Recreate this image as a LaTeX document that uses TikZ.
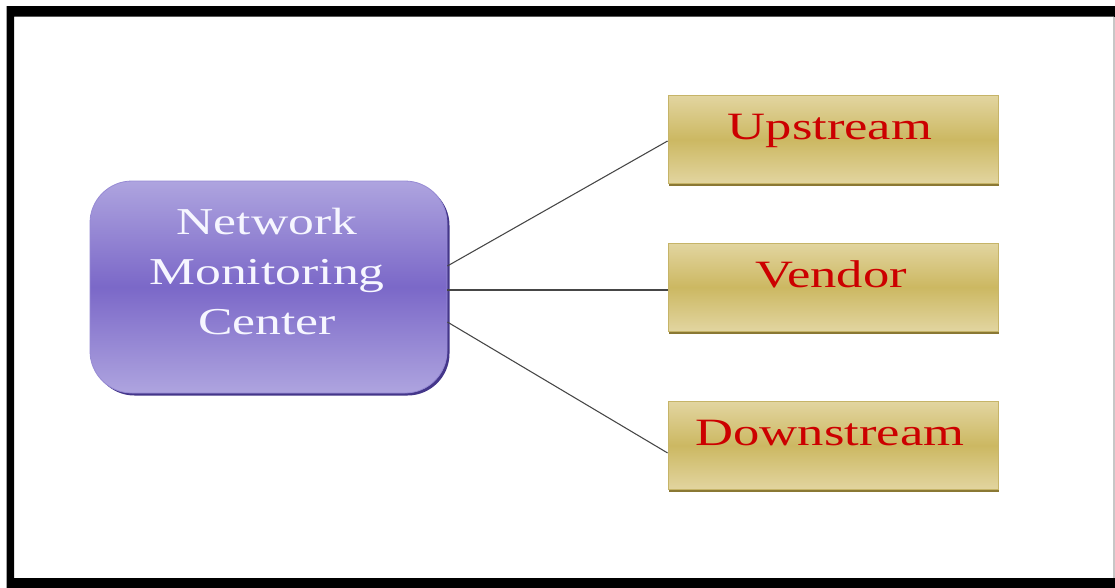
\documentclass[tikz,border=0pt]{standalone}
\usepackage{fontspec}
\setmainfont{Liberation Serif}
\usepackage{graphicx}
\definecolor{purpleLight}{RGB}{174,164,223}
\definecolor{purpleMid}{RGB}{123,104,200}
\definecolor{purpleShadow}{RGB}{68,54,138}
\definecolor{purpleEdge}{RGB}{150,138,212}
\definecolor{goldLight}{RGB}{226,213,160}
\definecolor{goldMid}{RGB}{204,184,98}
\definecolor{goldEdge}{RGB}{198,180,104}
\definecolor{goldShadow}{RGB}{138,120,52}
\definecolor{labelRed}{RGB}{204,0,0}
\definecolor{nmcText}{RGB}{246,246,255}
\definecolor{lineGray}{RGB}{70,70,70}
\tikzset{
  nmcbox/.style={rounded corners=42pt*0.75, minimum width=357*0.75pt, minimum height=212*0.75pt,
    top color=purpleLight, bottom color=purpleLight, middle color=purpleMid,
    draw=purpleEdge, line width=0.6pt, inner sep=0pt},
  nmcshadow/.style={rounded corners=42pt*0.75, minimum width=357*0.75pt, minimum height=212*0.75pt,
    fill=purpleShadow, inner sep=0pt},
  goldbox/.style={minimum width=330*0.75pt, minimum height=88*0.75pt,
    top color=goldLight, bottom color=goldLight, middle color=goldMid,
    draw=goldEdge, line width=0.6pt, inner sep=0pt},
  goldshadow/.style={minimum width=330*0.75pt, minimum height=88*0.75pt,
    fill=goldShadow, inner sep=0pt},
  goldlabel/.style={anchor=base, inner sep=0pt, text=labelRed,
    font=\fontsize{29}{36}\selectfont},
  nmclabel/.style={anchor=center, inner sep=0pt, text=nmcText,
    font=\fontsize{28.5}{37.5}\selectfont},
  conn/.style={draw=lineGray, line width=0.8pt},
}
\newcommand{\wide}[1]{\scalebox{1.36}[1]{#1}}
\begin{document}
\begin{tikzpicture}[x=0.75pt, y=-0.75pt]
\useasboundingbox (0,0) rectangle (1115,587);
\clip (0,0) rectangle (1115,587);
\fill[white] (0,0) rectangle (1115,587);
% frame
\fill[black, even odd rule] (6.5,6) rectangle (1140,600) (14,16.5) rectangle (1114,578);
\draw[black!22, line width=0.8pt] (1114,17) -- (1114,578);
% boxes
\node[nmcshadow] at (271,289.5) {};
\node[nmcbox] (nmc) at (268.5,287) {};
\node[nmclabel] (nmctxt) at (267,274) {\wide{\begin{tabular}{@{}c@{}}Network\\Monitoring\\Center\end{tabular}}};

\node[goldshadow] at (834,142) {};
\node[goldbox] (up) at (833,139.5) {};
\node[goldlabel] (uptxt) at (830,139.5) {\wide{Upstream}};

\node[goldshadow] at (834,289.5) {};
\node[goldbox] (ven) at (833,287) {};
\node[goldlabel] (ventxt) at (831,287) {\wide{Vendor}};

\node[goldshadow] at (834,448) {};
\node[goldbox] (down) at (833,445.5) {};
\node[goldlabel] (downtxt) at (830,445.5) {\wide{Downstream}};
% connectors
\draw[conn] ([yshift=15.75pt]nmc.east) -- ([yshift=-1.1pt]up.west);
\draw[conn] ([yshift=-2.25pt]nmc.east) -- ([yshift=-2.25pt]ven.west);
\draw[conn] ([yshift=-26.25pt]nmc.east) -- ([yshift=-5.6pt]down.west);
\end{tikzpicture}
\end{document}
